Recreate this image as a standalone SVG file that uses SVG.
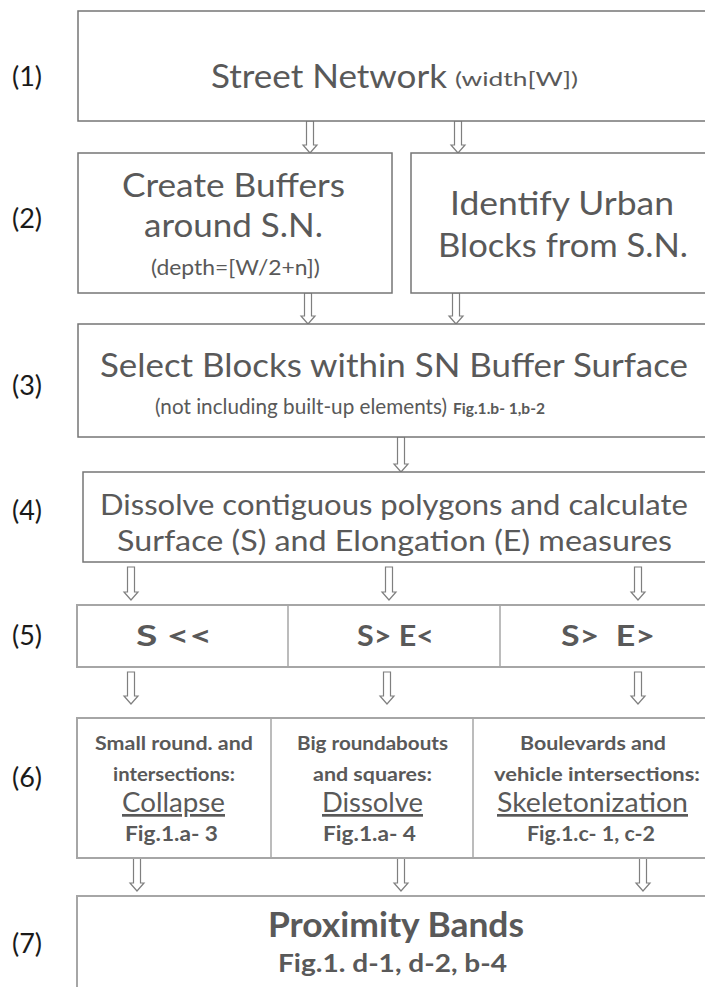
<svg xmlns="http://www.w3.org/2000/svg" width="705" height="987" viewBox="0 0 705 987">
<style>
text{font-family:Lato,"Open Sans","DejaVu Sans",sans-serif;fill:#595959}
.box{fill:#fff;stroke:#767676;stroke-width:1.5}
.boxl{fill:#fff;stroke:#a6a6a6;stroke-width:2}
.div{stroke:#a6a6a6;stroke-width:1.5}
.arr{fill:#fff;stroke:#7f7f7f;stroke-width:1.2}
.lbl{font-size:27px;fill:#1a1a1a}
.big{font-size:33px}
.b{font-weight:bold}
</style>
<rect width="705" height="987" fill="#fff"/>
<g id="labels">
<text class="lbl" x="12" y="86">(1)</text>
<text class="lbl" x="12" y="228">(2)</text>
<text class="lbl" x="12" y="395">(3)</text>
<text class="lbl" x="12" y="520">(4)</text>
<text class="lbl" x="12" y="645">(5)</text>
<text class="lbl" x="12" y="787">(6)</text>
<text class="lbl" x="12" y="953">(7)</text>
</g>
<g id="connectors">
<path class="arr" d="M306.5 121V145H303L310 153L317 145H313.5V121Z"/>
<path class="arr" d="M454.5 121V145H451L458 153L465 145H461.5V121Z"/>
<path class="arr" d="M304.5 293V316H301L308 324L315 316H311.5V293Z"/>
<path class="arr" d="M452.5 293V316H449L456 324L463 316H459.5V293Z"/>
<path class="arr" d="M397.5 437V464H394L401 472L408 464H404.5V437Z"/>
<path class="arr" d="M127.5 567V592H124L131 600L138 592H134.5V567Z"/>
<path class="arr" d="M385.5 567V592H382L389 600L396 592H392.5V567Z"/>
<path class="arr" d="M634.5 567V592H631L638 600L645 592H641.5V567Z"/>
<path class="arr" d="M127.5 672V696H124L131 704L138 696H134.5V672Z"/>
<path class="arr" d="M383.5 672V696H380L387 704L394 696H390.5V672Z"/>
<path class="arr" d="M634.5 672V696H631L638 704L645 696H641.5V672Z"/>
<path class="arr" d="M133.5 858V883H130L137 891L144 883H140.5V858Z"/>
<path class="arr" d="M397.5 858V883H394L401 891L408 883H404.5V858Z"/>
<path class="arr" d="M639.5 858V883H636L643 891L650 883H646.5V858Z"/>
</g>
<g id="n1">
<rect class="box" x="78" y="11" width="640" height="110"/>
<text class="big" x="211" y="88" textLength="236" lengthAdjust="spacingAndGlyphs">Street Network</text>
<text x="455" y="86" font-size="20" textLength="123" lengthAdjust="spacingAndGlyphs">(width[W])</text>
</g>
<g id="n2a">
<rect class="box" x="78" y="153" width="314" height="140"/>
<text class="big" x="122" y="197" textLength="223" lengthAdjust="spacingAndGlyphs">Create Buffers</text>
<text class="big" x="144" y="237" textLength="179" lengthAdjust="spacingAndGlyphs">around S.N.</text>
<text x="151" y="275" font-size="22" textLength="169" lengthAdjust="spacingAndGlyphs">(depth=[W/2+n])</text>
</g>
<g id="n2b">
<rect class="box" x="411" y="153" width="310" height="140"/>
<text class="big" x="450" y="215" textLength="224" lengthAdjust="spacingAndGlyphs">Identify Urban</text>
<text class="big" x="438" y="257" textLength="250" lengthAdjust="spacingAndGlyphs">Blocks from S.N.</text>
</g>
<g id="n3">
<rect class="box" x="78" y="324" width="640" height="113"/>
<text class="big" x="100" y="377" textLength="588" lengthAdjust="spacingAndGlyphs">Select Blocks within SN Buffer Surface</text>
<text x="155" y="414" font-size="20.5" textLength="292" lengthAdjust="spacingAndGlyphs">(not including built-up elements)</text>
<text class="b" x="453" y="414" font-size="15.5" textLength="92" lengthAdjust="spacingAndGlyphs">Fig.1.b- 1,b-2</text>
</g>
<g id="n4">
<rect class="box" x="83" y="472" width="640" height="90"/>
<text x="100" y="515" font-size="29" textLength="588" lengthAdjust="spacingAndGlyphs">Dissolve contiguous polygons and calculate</text>
<text x="117" y="551" font-size="29" textLength="555" lengthAdjust="spacingAndGlyphs">Surface (S) and Elongation (E) measures</text>
</g>
<g id="n5">
<rect class="boxl" x="77" y="605" width="640" height="62"/>
<line class="div" x1="288" y1="605" x2="288" y2="667"/>
<line class="div" x1="500" y1="605" x2="500" y2="667"/>
<text class="b" x="136" y="646" font-size="28" textLength="76" lengthAdjust="spacingAndGlyphs">S &lt;&lt;</text>
<text class="b" x="357" y="646" font-size="28" textLength="77" lengthAdjust="spacingAndGlyphs">S&gt; E&lt;</text>
<text class="b" x="561" y="646" font-size="28" textLength="94" lengthAdjust="spacingAndGlyphs" xml:space="preserve">S&gt;  E&gt;</text>
</g>
<g id="n6">
<rect class="boxl" x="77" y="718" width="640" height="140"/>
<line class="div" x1="271" y1="718" x2="271" y2="858"/>
<line class="div" x1="473" y1="718" x2="473" y2="858"/>
<text class="b" x="95" y="750" font-size="19" textLength="158" lengthAdjust="spacingAndGlyphs">Small round. and</text>
<text class="b" x="113" y="781" font-size="19" textLength="122" lengthAdjust="spacingAndGlyphs">intersections:</text>
<text x="122" y="812" font-size="27" text-decoration="underline" textLength="103" lengthAdjust="spacingAndGlyphs">Collapse</text>
<text class="b" x="125" y="841" font-size="21" textLength="93" lengthAdjust="spacingAndGlyphs">Fig.1.a- 3</text>
<text class="b" x="297" y="750" font-size="19" textLength="151" lengthAdjust="spacingAndGlyphs">Big roundabouts</text>
<text class="b" x="313" y="781" font-size="19" textLength="119" lengthAdjust="spacingAndGlyphs">and squares:</text>
<text x="322" y="812" font-size="27" text-decoration="underline" textLength="101" lengthAdjust="spacingAndGlyphs">Dissolve</text>
<text class="b" x="323" y="841" font-size="21" textLength="93" lengthAdjust="spacingAndGlyphs">Fig.1.a- 4</text>
<text class="b" x="520" y="750" font-size="19" textLength="146" lengthAdjust="spacingAndGlyphs">Boulevards and</text>
<text class="b" x="494" y="781" font-size="19" textLength="206" lengthAdjust="spacingAndGlyphs">vehicle intersections:</text>
<text x="497" y="812" font-size="27" text-decoration="underline" textLength="191" lengthAdjust="spacingAndGlyphs">Skeletonization</text>
<text class="b" x="527" y="841" font-size="21" textLength="128" lengthAdjust="spacingAndGlyphs">Fig.1.c- 1, c-2</text>
</g>
<g id="n7">
<rect class="boxl" x="77" y="896" width="640" height="100"/>
<text class="b" x="268" y="937" font-size="34" textLength="256" lengthAdjust="spacingAndGlyphs">Proximity Bands</text>
<text class="b" x="278" y="972" font-size="25" textLength="229" lengthAdjust="spacingAndGlyphs">Fig.1. d-1, d-2, b-4</text>
</g>
</svg>
